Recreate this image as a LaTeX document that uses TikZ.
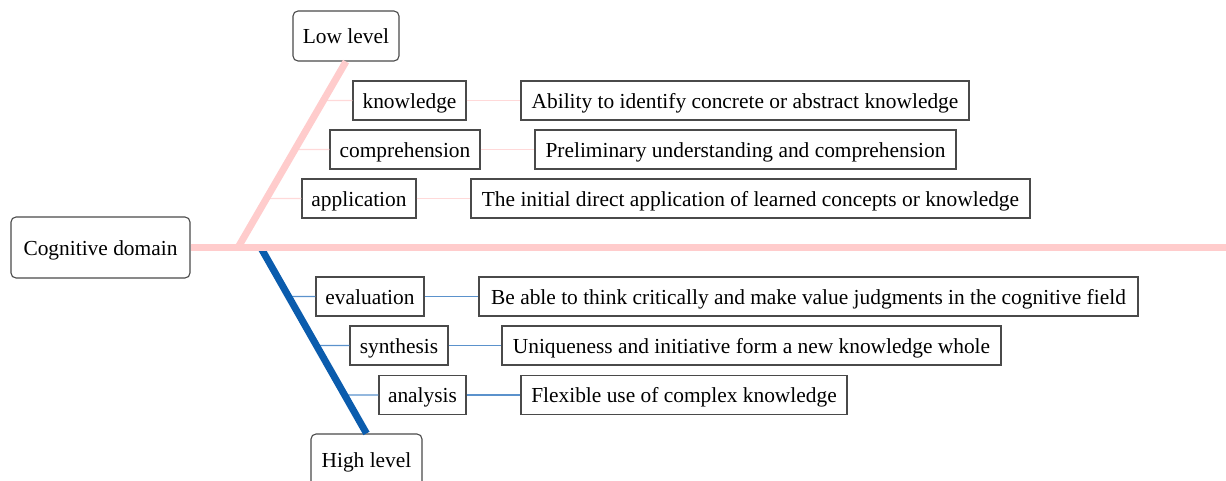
\documentclass[tikz,border=0pt]{standalone}
\usepackage{fontspec}
\setmainfont{Liberation Serif}
\definecolor{pinkthick}{HTML}{FFCCCC}
\definecolor{pinkthin}{HTML}{FFD9D9}
\definecolor{bluethick}{HTML}{0B5CAD}
\definecolor{bluethin}{HTML}{5B92CC}
\definecolor{boxline}{HTML}{4A4A4A}
\begin{document}
\begin{tikzpicture}[x=1pt,y=-1pt,
  box/.style={draw=boxline, line width=1.1pt, fill=white, inner sep=0pt,
    text height=15pt, text depth=0pt,
    font=\fontsize{21.4pt}{25pt}\selectfont},
  rbox/.style={box, rounded corners=5pt},
  pthick/.style={draw=pinkthick, line width=7pt},
  bthick/.style={draw=bluethick, line width=7pt},
  pthin/.style={draw=pinkthin, line width=1.2pt},
  bthin/.style={draw=bluethin, line width=1.2pt}]
\useasboundingbox (0,0) rectangle (1226,480);
% nodes
\node[rbox, minimum width=179pt, minimum height=61pt] (cog) at (100.5,247.5) {Cognitive domain};
\node[rbox, minimum width=106pt, minimum height=50pt] (low) at (346,36) {Low level};
\node[rbox, minimum width=111pt, minimum height=52pt] (high) at (366.5,460) {High level};
\coordinate (end) at (1226,247.5);
\coordinate (pj) at (238,247.5);
\coordinate (bj) at (261,248);
% low level items
\node[box, minimum width=113pt, minimum height=39pt] (k) at (409.5,100.5) {knowledge};
\node[box, minimum width=448pt, minimum height=39pt] (kd) at (745,100.5) {Ability to identify concrete or abstract knowledge};
\node[box, minimum width=150pt, minimum height=39pt] (c) at (405,149.5) {comprehension};
\node[box, minimum width=421pt, minimum height=39pt] (cd) at (745.5,149.5) {Preliminary understanding and comprehension};
\node[box, minimum width=114pt, minimum height=39pt] (a) at (359,198.5) {application};
\node[box, minimum width=559pt, minimum height=39pt] (ad) at (750.5,198.5) {The initial direct application of learned concepts or knowledge};
% high level items
\node[box, minimum width=108pt, minimum height=39pt] (e) at (370,296.5) {evaluation};
\node[box, minimum width=659pt, minimum height=39pt] (ed) at (808.5,296.5) {Be able to think critically and make value judgments in the cognitive field};
\node[box, minimum width=98pt, minimum height=39pt] (s) at (399,345.5) {synthesis};
\node[box, minimum width=499pt, minimum height=39pt] (sd) at (751.5,345.5) {Uniqueness and initiative form a new knowledge whole};
\node[box, minimum width=87pt, minimum height=39pt] (an) at (422.5,395) {analysis};
\node[box, minimum width=326pt, minimum height=39pt] (and) at (684,395) {Flexible use of complex knowledge};
% thin connectors
\draw[pthin] (intersection of pj--low.south and k.west--k.east) -- (k.west);
\draw[pthin] (k.east) -- (kd.west);
\draw[pthin] (intersection of pj--low.south and c.west--c.east) -- (c.west);
\draw[pthin] (c.east) -- (cd.west);
\draw[pthin] (intersection of pj--low.south and a.west--a.east) -- (a.west);
\draw[pthin] (a.east) -- (ad.west);
\draw[bthin] (intersection of bj--high.north and e.west--e.east) -- (e.west);
\draw[bthin] (e.east) -- (ed.west);
\draw[bthin] (intersection of bj--high.north and s.west--s.east) -- (s.west);
\draw[bthin] (s.east) -- (sd.west);
\draw[bthin] (intersection of bj--high.north and an.west--an.east) -- (an.west);
\draw[bthin] (an.east) -- (and.west);
% thick lines
\draw[bthick] (bj) -- (high.north);
\draw[pthick] (pj) -- (low.south);
\draw[pthick] (cog.east) -- (end);
\end{tikzpicture}
\end{document}
